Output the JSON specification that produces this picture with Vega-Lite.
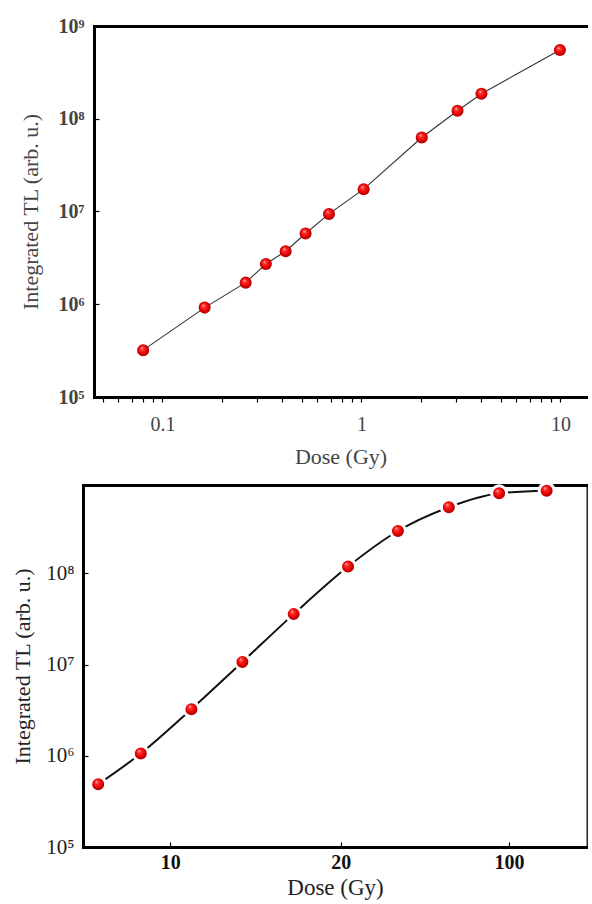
{
  "$schema": "https://vega.github.io/schema/vega-lite/v6.json",
  "padding": {"left": 11, "top": 16, "right": 0, "bottom": 0},
  "spacing": 9,
  "config": {"font": "Liberation Serif", "axis": {"grid": false}},
  "datasets": {
    "low": [
      {"dose": 0.08, "tl": 320000},
      {"dose": 0.163, "tl": 920000},
      {"dose": 0.262, "tl": 1710000},
      {"dose": 0.331, "tl": 2720000},
      {"dose": 0.416, "tl": 3730000},
      {"dose": 0.524, "tl": 5790000},
      {"dose": 0.687, "tl": 9420000},
      {"dose": 1.026, "tl": 17400000},
      {"dose": 2.01, "tl": 62800000},
      {"dose": 3.04, "tl": 122000000},
      {"dose": 4.01, "tl": 186000000},
      {"dose": 9.94, "tl": 550000000}
    ],
    "high": [
      {"dose": 5.77, "tl": 488000},
      {"dose": 8.27, "tl": 1060000},
      {"dose": 11.24, "tl": 3250000},
      {"dose": 14.23, "tl": 10700000},
      {"dose": 17.24, "tl": 35800000},
      {"dose": 23.5, "tl": 119000000},
      {"dose": 47.2, "tl": 292000000},
      {"dose": 71.4, "tl": 532000000},
      {"dose": 95.3, "tl": 757000000},
      {"dose": 117.9, "tl": 809000000}
    ]
  },
  "vconcat": [
    {
      "width": 504,
      "height": 371,
      "data": {"name": "low"},
      "view": {"stroke": null},
      "layer": [
        {
          "mark": {"type": "line", "color": "#333", "strokeWidth": 1.1},
          "encoding": {
            "x": {
              "field": "dose", "type": "quantitative",
              "scale": {"type": "log", "domain": [0.0453, 13.6], "range": [11, 504], "nice": false},
              "axis": {
                "orient": "bottom",
                "values": [0.05, 0.06, 0.07, 0.08, 0.09, 0.1, 0.2, 0.3, 0.4, 0.5, 0.6, 0.7, 0.8, 0.9, 1, 2, 3, 4, 5, 6, 7, 8, 9, 10],
                "labelExpr": "datum.value == 0.1 ? '0.1' : datum.value == 1 ? '1' : datum.value == 10 ? '10' : ''",
                "labelOverlap": false, "labelFlush": false,
                "tickSize": 5, "tickColor": "#000", "tickWidth": 1.2,
                "domainWidth": 3, "domainColor": "#000", "domainCap": "square",
                "labelFont": "Liberation Serif", "labelFontSize": 20, "labelColor": "#444", "labelPadding": 12,
                "title": "Dose (Gy)", "titleFont": "Liberation Serif", "titleFontSize": 22, "titleFontWeight": "normal", "titleColor": "#444", "titlePadding": 12
              }
            },
            "y": {
              "field": "tl", "type": "quantitative",
              "scale": {"type": "log", "domain": [100000, 1000000000], "nice": false},
              "axis": {
                "orient": "left", "offset": -11,
                "values": [100000, 1000000, 10000000, 100000000, 1000000000],
                "labelExpr": "'10' + ['⁰','¹','²','³','⁴','⁵','⁶','⁷','⁸','⁹'][round(log(datum.value)/LN10)]",
                "tickSize": -5, "tickColor": "#000", "tickWidth": 1.2,
                "domainWidth": 3, "domainColor": "#000", "domainCap": "square",
                "labelFont": "Liberation Serif", "labelFontSize": 20, "labelFontWeight": "bold", "labelColor": "#444", "labelPadding": 15,
                "title": "Integrated TL (arb. u.)", "titleFont": "Liberation Serif", "titleFontSize": 22, "titleFontWeight": "normal", "titleColor": "#444", "titlePadding": 16
              }
            }
          }
        },
        {
          "mark": {
            "type": "point", "shape": "circle", "filled": true, "size": 145, "opacity": 1,
            "fill": {"gradient": "radial", "x1": 0.38, "y1": 0.32, "r1": 0, "x2": 0.5, "y2": 0.5, "r2": 0.55,
              "stops": [{"offset": 0, "color": "#ffd0d0"}, {"offset": 0.25, "color": "#ff3030"}, {"offset": 0.7, "color": "#e00000"}, {"offset": 1, "color": "#900000"}]},
            "strokeWidth": 0
          },
          "encoding": {
            "x": {
              "field": "dose", "type": "quantitative",
              "scale": {"type": "log", "domain": [0.0453, 13.6], "range": [11, 504], "nice": false},
              "axis": {"orient": "top", "labels": false, "ticks": false, "title": null, "domainWidth": 3, "domainColor": "#000", "domainCap": "square"}
            },
            "y": {
              "field": "tl", "type": "quantitative",
              "scale": {"type": "log", "domain": [100000, 1000000000], "nice": false}
            }
          }
        }
      ],
      "resolve": {"axis": {"x": "independent"}}
    },
    {
      "width": 504,
      "height": 362,
      "data": {"name": "high"},
      "view": {"stroke": "#000", "strokeWidth": 1.3},
      "layer": [
        {
          "mark": {"type": "line", "color": "#111", "strokeWidth": 2, "interpolate": "monotone"},
          "encoding": {
            "x": {
              "field": "dose", "type": "quantitative",
              "scale": {"type": "linear", "domain": [4.88, 10, 20, 100, 137.1], "range": [0, 87.3, 257.7, 426, 504], "nice": false, "zero": false},
              "axis": {
                "orient": "bottom",
                "values": [10, 20, 100],
                "labelOverlap": false, "labelFlush": false,
                "tickSize": -5, "tickColor": "#000", "tickWidth": 1.2,
                "domainWidth": 3, "domainColor": "#000", "domainCap": "square",
                "labelFont": "Liberation Serif", "labelFontSize": 20, "labelFontWeight": "bold", "labelColor": "#111", "labelPadding": 10,
                "title": "Dose (Gy)", "titleFont": "Liberation Serif", "titleFontSize": 23, "titleFontWeight": "normal", "titleColor": "#222", "titlePadding": 4
              }
            },
            "y": {
              "field": "tl", "type": "quantitative",
              "scale": {"type": "log", "domain": [100000, 933000000], "nice": false},
              "axis": {
                "orient": "left",
                "values": [100000, 1000000, 10000000, 100000000],
                "labelExpr": "'10' + ['⁰','¹','²','³','⁴','⁵','⁶','⁷','⁸','⁹'][round(log(datum.value)/LN10)]",
                "tickSize": -5, "tickColor": "#000", "tickWidth": 1.2,
                "domainWidth": 3, "domainColor": "#000", "domainCap": "square",
                "labelFont": "Liberation Serif", "labelFontSize": 21, "labelColor": "#222", "labelPadding": 14,
                "title": "Integrated TL (arb. u.)", "titleFont": "Liberation Serif", "titleFontSize": 22, "titleFontWeight": "normal", "titleColor": "#222", "titlePadding": 11
              }
            }
          }
        },
        {
          "mark": {
            "type": "point", "shape": "circle", "filled": true, "size": 225, "opacity": 1,
            "fill": {"gradient": "radial", "x1": 0.38, "y1": 0.32, "r1": 0, "x2": 0.5, "y2": 0.5, "r2": 0.5,
              "stops": [{"offset": 0, "color": "#ffd0d0"}, {"offset": 0.22, "color": "#ff3030"}, {"offset": 0.6, "color": "#e80000"}, {"offset": 0.8, "color": "#b00000"}, {"offset": 1, "color": "#b00000"}]},
            "stroke": "#fff", "strokeWidth": 3, "strokeOpacity": 1
          },
          "encoding": {
            "x": {
              "field": "dose", "type": "quantitative",
              "scale": {"type": "linear", "domain": [4.88, 10, 20, 100, 137.1], "range": [0, 87.3, 257.7, 426, 504], "nice": false, "zero": false},
              "axis": {"orient": "top", "labels": false, "ticks": false, "title": null, "domainWidth": 3, "domainColor": "#000", "domainCap": "square"}
            },
            "y": {
              "field": "tl", "type": "quantitative",
              "scale": {"type": "log", "domain": [100000, 933000000], "nice": false}
            }
          }
        }
      ],
      "resolve": {"axis": {"x": "independent"}}
    }
  ]
}
